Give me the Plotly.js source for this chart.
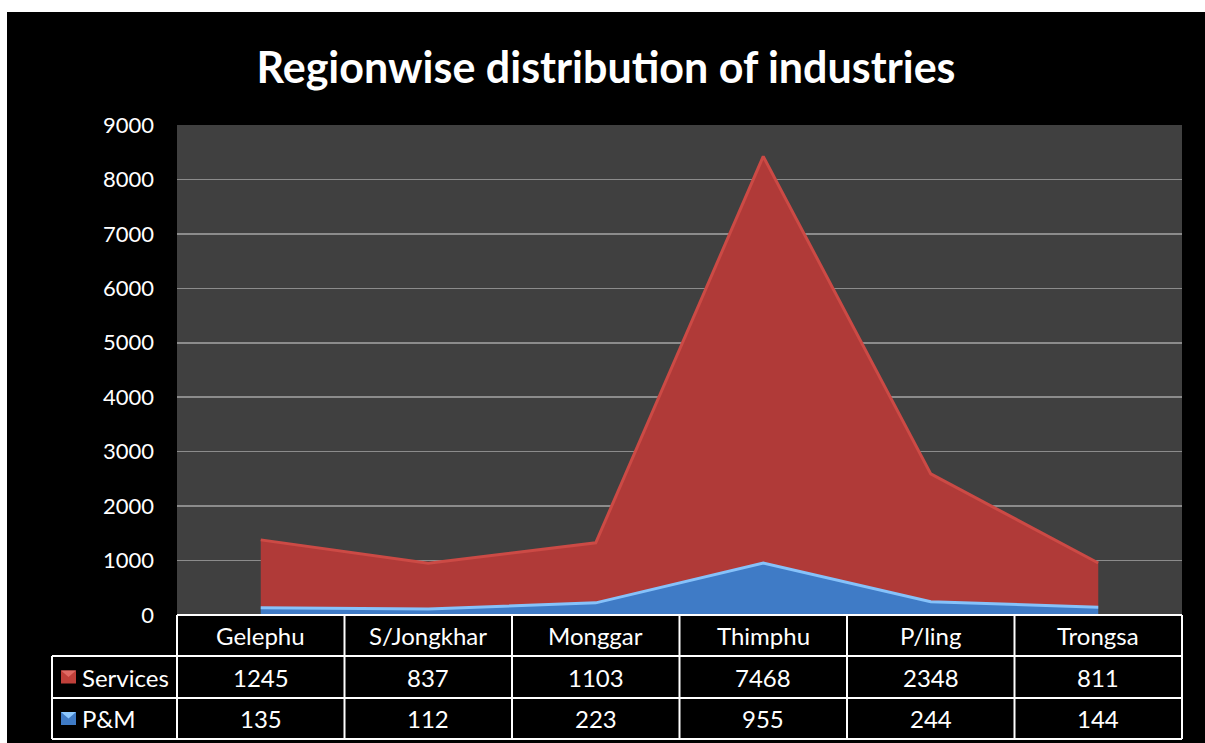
<!DOCTYPE html>
<html>
<head>
<meta charset="utf-8">
<script src="https://cdn.plot.ly/plotly-3.0.1.min.js"></script>
<style>
  html, body { margin: 0; padding: 0; background: #ffffff; width: 1205px; height: 743px; overflow: hidden; }
  #chart { position: absolute; left: 7px; top: 12px; width: 1198px; height: 731px; }
</style>
</head>
<body>
<div id="chart"></div>
<script>
const categories = ["Gelephu", "S/Jongkhar", "Monggar", "Thimphu", "P/ling", "Trongsa"];
const services = [1245, 837, 1103, 7468, 2348, 811];
const pm = [135, 112, 223, 955, 244, 144];
const seriesNames = ["Services", "P&M"];
const yTicks = [0, 1000, 2000, 3000, 4000, 5000, 6000, 7000, 8000, 9000];

const FONT = "Lato, 'Open Sans', sans-serif";
const n = categories.length;

const traces = [
  {
    x: categories, y: pm, name: seriesNames[1], type: "scatter", mode: "lines",
    stackgroup: "one",
    line: { color: "#86c2fa", width: 3 },
    fillcolor: "#3f7bc6",
    hoverinfo: "x+y+name"
  },
  {
    x: categories, y: services, name: seriesNames[0], type: "scatter", mode: "lines",
    stackgroup: "one",
    line: { color: "#cc4a45", width: 3 },
    fillcolor: "#b03a38",
    hoverinfo: "x+y+name"
  }
];

// table geometry (paper coords): plot area = 1005 px wide, 490 px high
const plotW = 1005, plotH = 490;
const rowEdges = [0, -41 / plotH, -83 / plotH, -124 / plotH];
const labelLeft = -125 / plotW;
const colX = i => i / n; // column boundary i

const shapes = [];
const annotations = [];
const white = { color: "#ffffff", width: 2 };

shapes.push({ type: "line", xref: "paper", yref: "paper", x0: 0, x1: 1, y0: rowEdges[0], y1: rowEdges[0], line: white });
shapes.push({ type: "line", xref: "paper", yref: "paper", x0: labelLeft, x1: 1, y0: rowEdges[1], y1: rowEdges[1], line: white });
shapes.push({ type: "line", xref: "paper", yref: "paper", x0: labelLeft, x1: 1, y0: rowEdges[2], y1: rowEdges[2], line: white });
shapes.push({ type: "line", xref: "paper", yref: "paper", x0: labelLeft, x1: 1, y0: rowEdges[3], y1: rowEdges[3], line: white });
for (let i = 0; i <= n; i++) {
  shapes.push({ type: "line", xref: "paper", yref: "paper", x0: colX(i), x1: colX(i), y0: rowEdges[0], y1: rowEdges[3], line: white });
}
shapes.push({ type: "line", xref: "paper", yref: "paper", x0: labelLeft, x1: labelLeft, y0: rowEdges[1], y1: rowEdges[3], line: white });

const rowMid = k => (rowEdges[k] + rowEdges[k + 1]) / 2;
const cellFont = { family: FONT, size: 24, color: "#ffffff" };

categories.forEach((c, i) => {
  const cx = (i + 0.5) / n;
  annotations.push({ xref: "paper", yref: "paper", x: cx, y: rowMid(0), text: c, showarrow: false, font: cellFont, xanchor: "center", yanchor: "middle" });
  annotations.push({ xref: "paper", yref: "paper", x: cx, y: rowMid(1), text: String(services[i]), showarrow: false, font: cellFont, xanchor: "center", yanchor: "middle" });
  annotations.push({ xref: "paper", yref: "paper", x: cx, y: rowMid(2), text: String(pm[i]), showarrow: false, font: cellFont, xanchor: "center", yanchor: "middle" });
});

// legend keys in row labels
const keyColors = ["#c0403a", "#3f7bc6"];
const keyTop = ["#e06a64", "#8cc8ff"];
seriesNames.forEach((s, k) => {
  const ym = rowMid(k + 1);
  const x0 = labelLeft + 9 / plotW, x1 = labelLeft + 24 / plotW;
  shapes.push({ type: "rect", xref: "paper", yref: "paper", x0: x0, x1: x1, y0: ym - 6.5 / plotH, y1: ym + 6.5 / plotH, line: { width: 0 }, fillcolor: keyColors[k] });
  shapes.push({ type: "path", xref: "paper", yref: "paper",
    path: `M ${x0} ${ym + 6.5 / plotH} L ${x1} ${ym + 6.5 / plotH} L ${(x0 + x1) / 2} ${ym} Z`,
    line: { width: 0 }, fillcolor: keyTop[k] });
  annotations.push({ xref: "paper", yref: "paper", x: labelLeft + 28 / plotW, y: ym, text: s.replace("&", "&amp;"), showarrow: false, font: cellFont, xanchor: "left", yanchor: "middle" });
});

const layout = {
  width: 1198, height: 731,
  paper_bgcolor: "#000000",
  plot_bgcolor: "#404040",
  margin: { l: 170, r: 23, t: 113, b: 128, pad: 0 },
  showlegend: false,
  title: {
    text: "<b>Regionwise distribution of industries</b>",
    font: { family: FONT, size: 43, color: "#ffffff" },
    x: 0.5, xanchor: "center", y: 1 - 56 / 731, yanchor: "middle", yref: "container"
  },
  xaxis: {
    type: "category",
    range: [-0.5, n - 0.5],
    showticklabels: false, showgrid: false, zeroline: false, showline: false, ticks: ""
  },
  yaxis: {
    range: [0, 9000],
    tickvals: yTicks,
    ticktext: yTicks.map(String),
    showgrid: true, gridcolor: "#8c8c8c", gridwidth: 1.5,
    zeroline: false, showline: false, ticks: "",
    ticklabelstandoff: 22,
    tickfont: { family: FONT, size: 22, color: "#ffffff" }
  },
  shapes: shapes,
  annotations: annotations
};

Plotly.newPlot("chart", traces, layout, { displayModeBar: false, staticPlot: true });
</script>
</body>
</html>
